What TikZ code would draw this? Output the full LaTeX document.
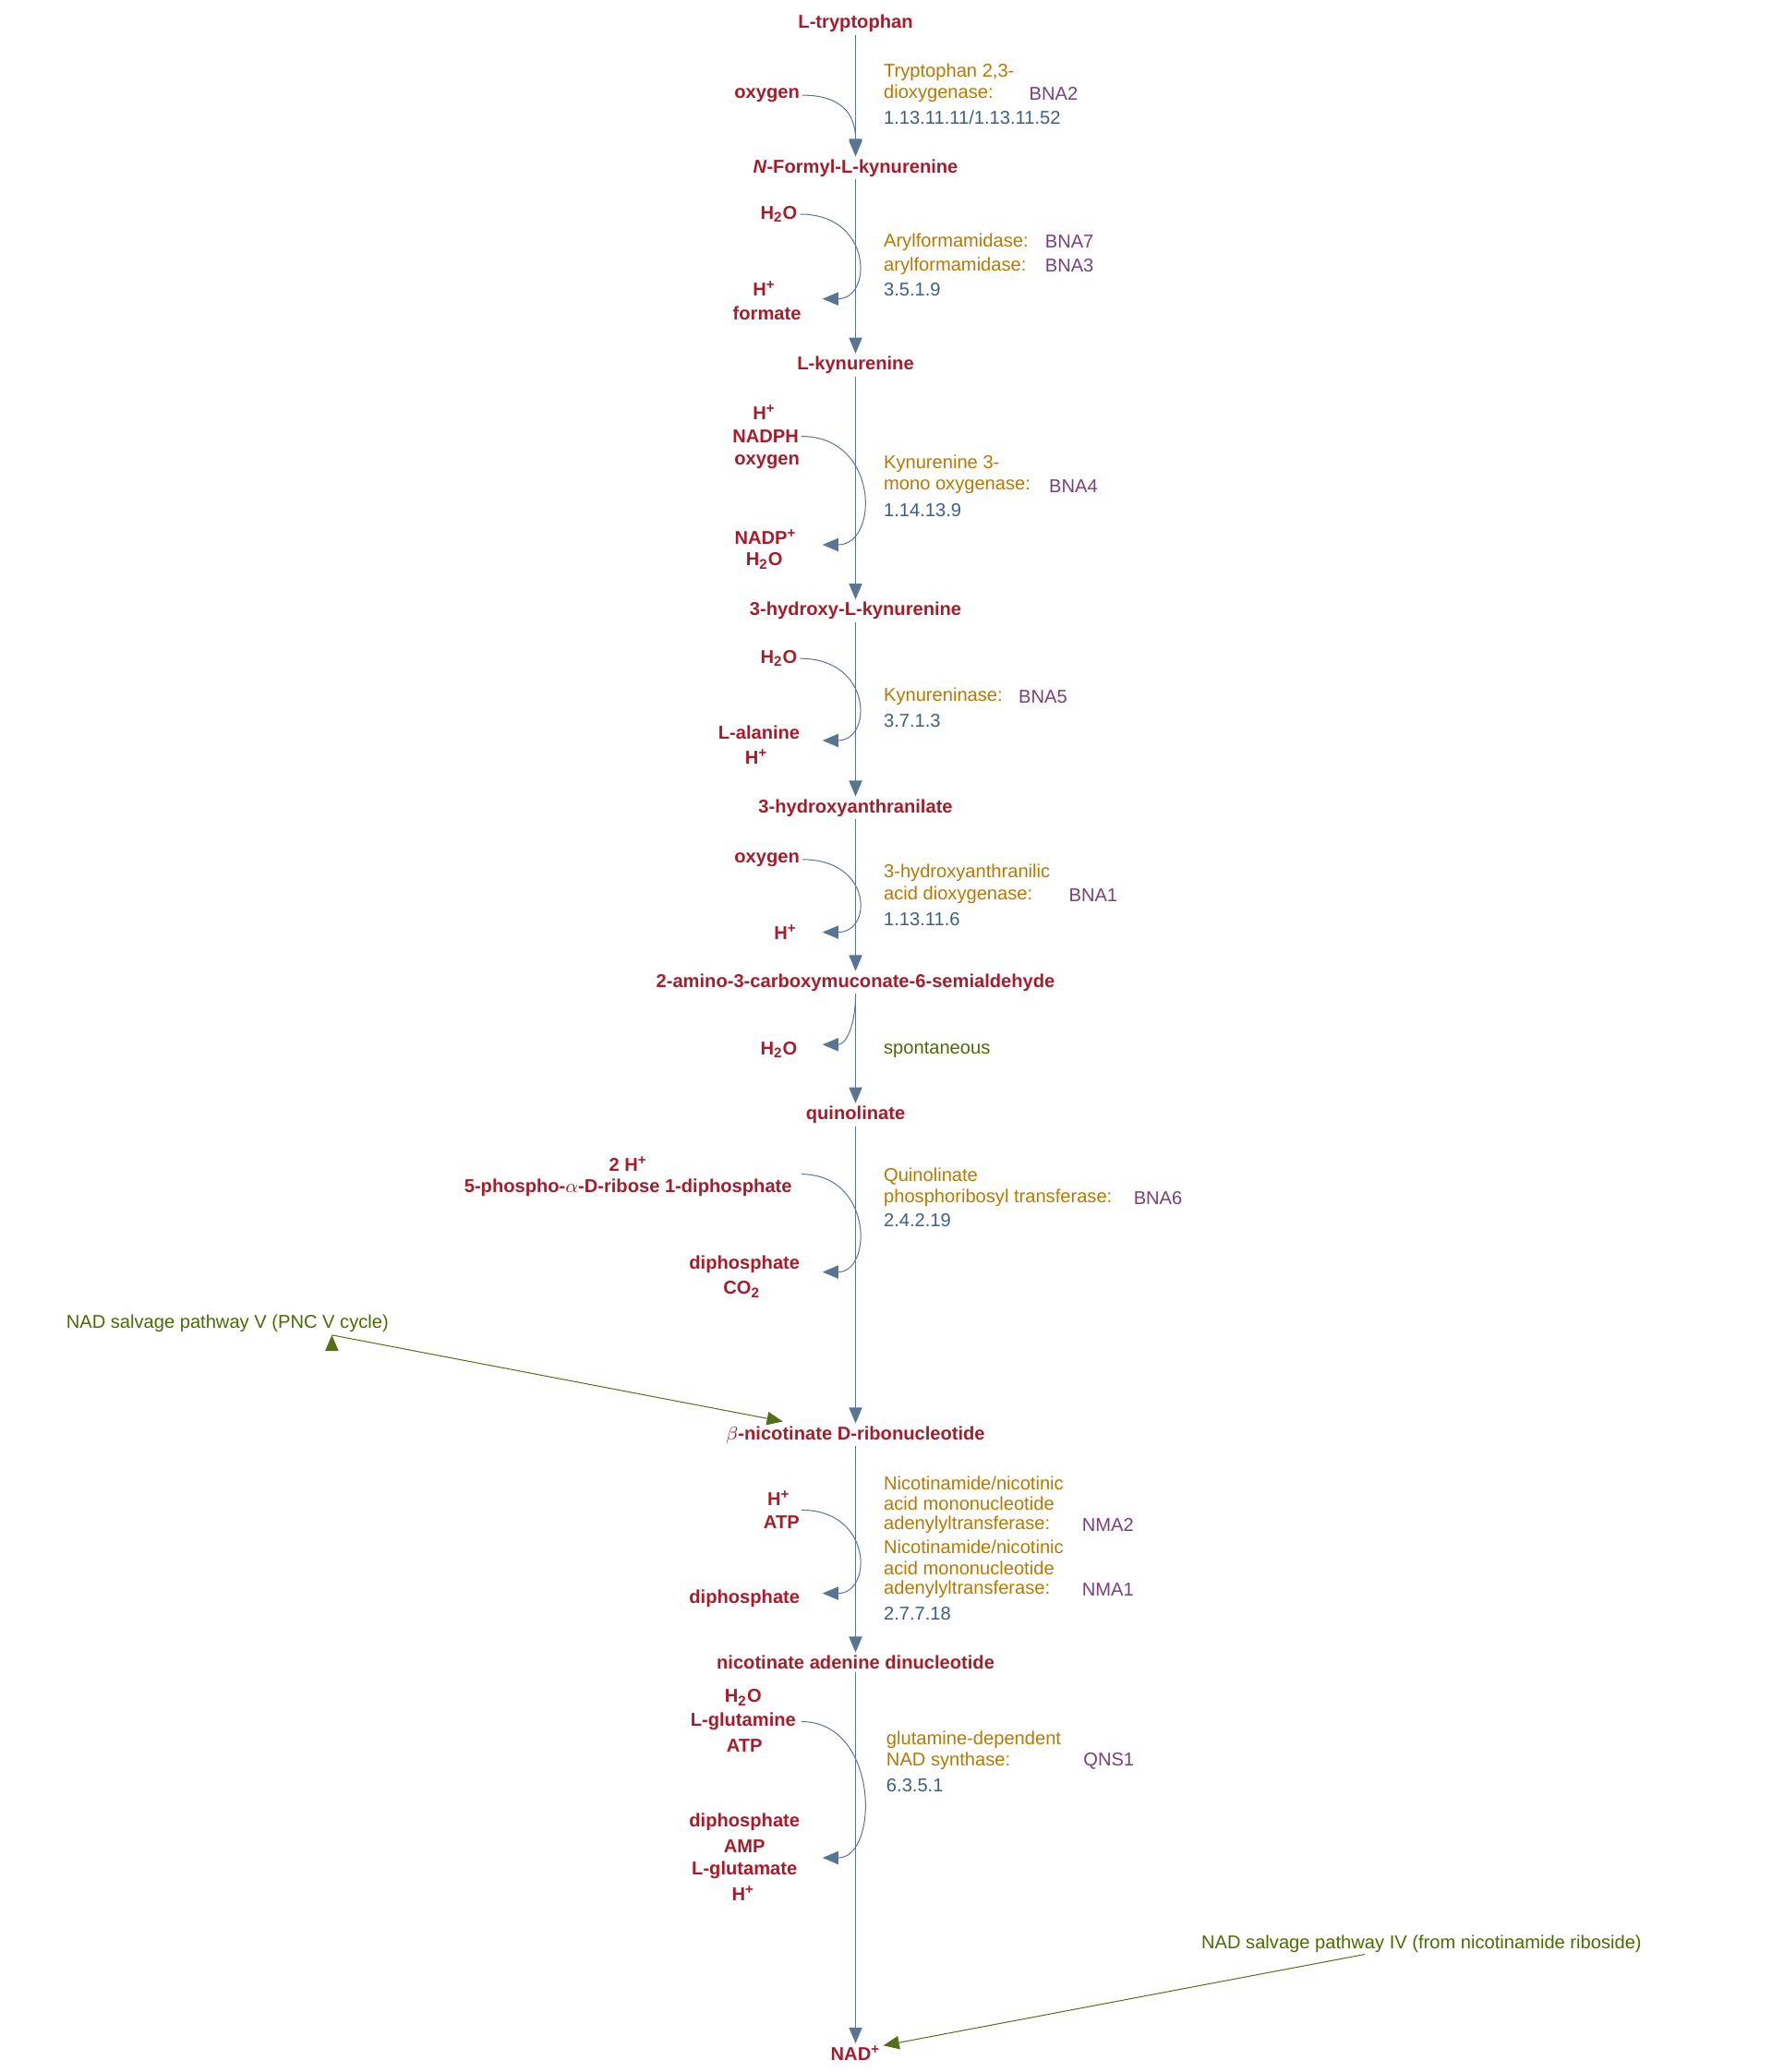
\documentclass[tikz,border=0pt]{standalone}
\usepackage{fontspec}
\setmainfont{Liberation Sans}
\usetikzlibrary{arrows.meta,positioning}
\definecolor{metred}{HTML}{A51D2A}
\definecolor{enzorange}{HTML}{B87800}
\definecolor{genepurple}{HTML}{7A3F7E}
\definecolor{ecblue}{HTML}{3B5F86}
\definecolor{notegreen}{HTML}{4A6B00}
\definecolor{linegray}{HTML}{5A7592}
\begin{document}
\begin{tikzpicture}[x=0.02cm,y=-0.02cm,
                    met/.style={font=\fontsize{8}{10}\selectfont\bfseries, text=metred, inner sep=1},
                    side/.style={met},
                    enz/.style={anchor=west, font=\fontsize{8}{10}\selectfont, text=enzorange, inner sep=0},
                    gene/.style={enz, text=genepurple},
                    ec/.style={enz, text=ecblue},
                    note/.style={font=\fontsize{8}{10}\selectfont, text=notegreen, inner sep=1},
                    main/.style={-{Triangle[length=0.24cm,width=0.2cm]}, linegray, fill=ecblue},
                    arc/.style={-{Triangle[length=0.24cm,width=0.2cm]}, linegray, thin},
                    salvage/.style={-{Triangle[length=0.24cm,width=0.2cm]}, notegreen!80!gray}
                    ]
    \useasboundingbox (0,0) rectangle (1340,1567);
    %main metabolites
    \node[met] (trp)  at (647,18)   {L-tryptophan};
    \node[met] (nfk)  at (647,127)  {\textit{N}-Formyl-L-kynurenine};
    \node[met] (kyn)  at (647,276)  {L-kynurenine};
    \node[met] (hk)   at (647,462)  {3-hydroxy-L-kynurenine};
    \node[met] (haa)  at (647,611)  {3-hydroxyanthranilate};
    \node[met] (acms) at (647,743)  {2-amino-3-carboxymuconate-6-semialdehyde};
    \node[met] (quin) at (647,843)  {quinolinate};
    \node[met] (namn) at (647,1085) {$\beta$-nicotinate D-ribonucleotide};
    \node[met] (naad) at (647,1257) {nicotinate adenine dinucleotide};
    \node[met] (nad)  at (647,1553) {NAD\textsuperscript{+}};

    \foreach \a/\b in {trp/nfk,nfk/kyn,kyn/hk,hk/haa,haa/acms,acms/quin,quin/namn,namn/naad,naad/nad}
        \draw[main] (\a.south) -- (\b.north);

    %step 1
    \node[side] (o1) at (580,72) {oxygen};
    \coordinate (o1end) at (647,117);
    \draw[arc] (o1.east) .. controls (640,72) and (647,90) .. (o1end);
    \node[enz]  (e1a) at (668,55) {Tryptophan 2,3-};
    \node[enz]  (e1b) at (668,71) {dioxygenase:};
    \node[gene] (g1)  at (778,71) {BNA2};
    \node[ec]   (c1)  at (668,89) {1.13.11.11/1.13.11.52};

    %step 2
    \node[side] (w2) at (589,162) {H\textsubscript{2}O};
    \node[side] (h2) at (578,218) {H\textsuperscript{+}};
    \node[side] (f2) at (580,237) {formate};
    \coordinate (a2) at (622,226);
    \draw[arc] (w2.east) .. controls (660,162) and (660,226) .. (a2);
    \node[enz]  (e2a) at (668,183) {Arylformamidase:};
    \node[gene] (g2a) at (790,183) {BNA7};
    \node[enz]  (e2b) at (668,201) {arylformamidase:};
    \node[gene] (g2b) at (790,201) {BNA3};
    \node[ec]   (c2)  at (668,219) {3.5.1.9};

    %step 3
    \node[side] (h3)  at (578,312) {H\textsuperscript{+}};
    \node[side] (n3)  at (579,330) {NADPH};
    \node[side] (o3)  at (580,349) {oxygen};
    \node[side] (np3) at (579,406) {NADP\textsuperscript{+}};
    \node[side] (w3)  at (578,424) {H\textsubscript{2}O};
    \coordinate (a3) at (622,412);
    \draw[arc] (n3.east) .. controls (665,330) and (665,412) .. (a3);
    \node[enz]  (e3a) at (668,351) {Kynurenine 3-};
    \node[enz]  (e3b) at (668,368) {mono oxygenase:};
    \node[gene] (g3)  at (793,368) {BNA4};
    \node[ec]   (c3)  at (668,386) {1.14.13.9};

    %step 4
    \node[side] (w4) at (589,498) {H\textsubscript{2}O};
    \node[side] (l4) at (574,554) {L-alanine};
    \node[side] (h4) at (572,572) {H\textsuperscript{+}};
    \coordinate (a4) at (622,560);
    \draw[arc] (w4.east) .. controls (660,498) and (660,560) .. (a4);
    \node[enz]  (e4) at (668,527) {Kynureninase:};
    \node[gene] (g4) at (770,527) {BNA5};
    \node[ec]   (c4) at (668,545) {3.7.1.3};

    %step 5
    \node[side] (o5) at (580,650) {oxygen};
    \node[side] (h5) at (594,705) {H\textsuperscript{+}};
    \coordinate (a5) at (622,705);
    \draw[arc] (o5.east) .. controls (660,650) and (660,705) .. (a5);
    \node[enz]  (e5a) at (668,660) {3-hydroxyanthranilic};
    \node[enz]  (e5b) at (668,677) {acid dioxygenase:};
    \node[gene] (g5)  at (808,677) {BNA1};
    \node[ec]   (c5)  at (668,695) {1.13.11.6};

    %step 6
    \node[side] (w6) at (589,794) {H\textsubscript{2}O};
    \coordinate (s6) at (647,752);
    \coordinate (a6) at (622,790);
    \draw[arc] (s6) .. controls (647,775) and (640,790) .. (a6);
    \node[note, anchor=west, inner sep=0] (sp6) at (668,794) {spontaneous};

    %step 7
    \node[side] (h7) at (475,880) {2 H\textsuperscript{+}};
    \node[side] (p7) at (475,898) {5-phospho-$\alpha$-D-ribose 1-diphosphate};
    \node[side] (d7) at (563,956) {diphosphate};
    \node[side] (c7) at (561,975) {CO\textsubscript{2}};
    \coordinate (s7) at (606,888);
    \coordinate (a7) at (622,962);
    \draw[arc] (s7) .. controls (660,888) and (660,962) .. (a7);
    \node[enz]  (e7a) at (668,890) {Quinolinate};
    \node[enz]  (e7b) at (668,906) {phosphoribosyl transferase:};
    \node[gene] (g7)  at (857,906) {BNA6};
    \node[ec]   (ec7) at (668,923) {2.4.2.19};

    %salvage V
    \node[note] (salv5) at (172,1001) {NAD salvage pathway V (PNC V cycle)};
    \coordinate (sv5) at (592,1075);
    \draw[salvage] (salv5.south east) ++(-45,0) coordinate (sv5s);
    \draw[salvage] (sv5s) -- (sv5);

    %step 8
    \node[side] (h8) at (589,1133) {H\textsuperscript{+}};
    \node[side] (t8) at (591,1151) {ATP};
    \node[side] (d8) at (563,1209) {diphosphate};
    \coordinate (s8) at (606,1142);
    \coordinate (a8) at (622,1205);
    \draw[arc] (s8) .. controls (660,1142) and (660,1205) .. (a8);
    \node[enz]  (e8a) at (668,1122) {Nicotinamide/nicotinic};
    \node[enz]  (e8b) at (668,1137) {acid mononucleotide};
    \node[enz]  (e8c) at (668,1153) {adenylyltransferase:};
    \node[gene] (g8a) at (818,1153) {NMA2};
    \node[enz]  (e8d) at (668,1170) {Nicotinamide/nicotinic};
    \node[enz]  (e8e) at (668,1186) {acid mononucleotide};
    \node[enz]  (e8f) at (668,1202) {adenylyltransferase:};
    \node[gene] (g8b) at (818,1202) {NMA1};
    \node[ec]   (c8)  at (668,1220) {2.7.7.18};

    %step 9
    \node[side] (w9)  at (562,1284) {H\textsubscript{2}O};
    \node[side] (q9)  at (562,1302) {L-glutamine};
    \node[side] (t9)  at (563,1320) {ATP};
    \node[side] (d9)  at (563,1378) {diphosphate};
    \node[side] (m9)  at (563,1396) {AMP};
    \node[side] (gl9) at (563,1414) {L-glutamate};
    \node[side] (h9)  at (562,1432) {H\textsuperscript{+}};
    \coordinate (s9) at (606,1302);
    \coordinate (a9) at (622,1405);
    \draw[arc] (s9) .. controls (665,1302) and (665,1405) .. (a9);
    \node[enz]  (e9a) at (670,1316) {glutamine-dependent};
    \node[enz]  (e9b) at (670,1332) {NAD synthase:};
    \node[gene] (g9)  at (819,1332) {QNS1};
    \node[ec]   (c9)  at (670,1350) {6.3.5.1};

    %salvage IV
    \node[note] (salv4) at (1075,1470) {NAD salvage pathway IV (from nicotinamide riboside)};
    \coordinate (sv4s) at (1032,1478);
    \coordinate (sv4) at (668,1547);
    \draw[salvage] (sv4s) -- (sv4);
\end{tikzpicture}
\end{document}
